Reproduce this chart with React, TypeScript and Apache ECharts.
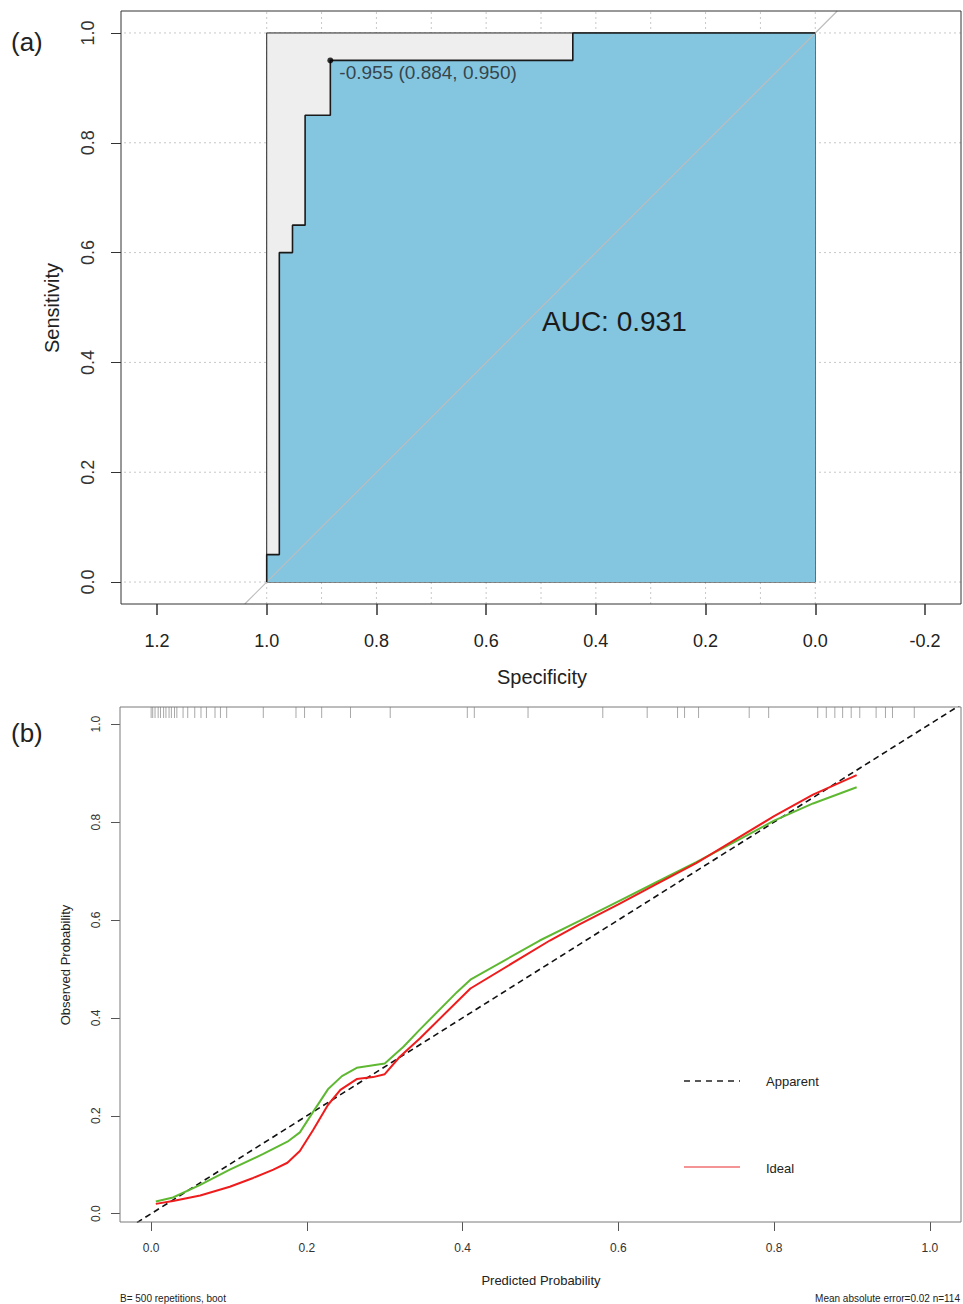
import React, { useEffect, useRef } from "react";
import * as echarts from "echarts";

// ---------- Panel (a): ROC ----------
const rocSpecificity = [1, 1, 0.977, 0.977, 0.953, 0.953, 0.93, 0.93, 0.884, 0.884, 0.442, 0.442, 0];
const rocSensitivity = [0, 0.05, 0.05, 0.6, 0.6, 0.65, 0.65, 0.85, 0.85, 0.95, 0.95, 1, 1];
const maxAucSpecificity = [1, 1, 0, 0];
const maxAucSensitivity = [0, 1, 1, 0];
const bestThreshold = -0.955;
const bestSpecificity = 0.884;
const bestSensitivity = 0.95;
const aucValue = 0.931;
const rocXTicks = [1.2, 1.0, 0.8, 0.6, 0.4, 0.2, 0.0, -0.2];
const rocYTicks = [0, 0.2, 0.4, 0.6, 0.8, 1.0];
const rocGridX = [0, 0.1, 0.2, 0.3, 0.4, 0.5, 0.6, 0.7, 0.8, 0.9, 1.0];
const rocGridY = [0, 0.2, 0.4, 0.6, 0.8, 1.0];
const rocDiagonalEnds = [-0.04, 1.04];

// ---------- Panel (b): calibration ----------
const redPredicted = [0.006, 0.028, 0.063, 0.101, 0.131, 0.157, 0.175, 0.191, 0.208, 0.227, 0.243, 0.264, 0.285, 0.3, 0.319, 0.345, 0.41, 0.512, 0.55, 0.6, 0.65, 0.7, 0.75, 0.8, 0.85, 0.906];
const redObserved = [0.02, 0.026, 0.037, 0.055, 0.073, 0.09, 0.104, 0.128, 0.171, 0.222, 0.253, 0.275, 0.279, 0.285, 0.32, 0.358, 0.46, 0.558, 0.591, 0.632, 0.674, 0.716, 0.764, 0.812, 0.856, 0.896];
const greenPredicted = [0.006, 0.028, 0.063, 0.101, 0.144, 0.175, 0.191, 0.208, 0.227, 0.245, 0.264, 0.3, 0.324, 0.345, 0.393, 0.41, 0.499, 0.55, 0.6, 0.65, 0.7, 0.75, 0.8, 0.85, 0.906];
const greenObserved = [0.025, 0.033, 0.059, 0.09, 0.122, 0.147, 0.166, 0.208, 0.254, 0.281, 0.298, 0.307, 0.341, 0.376, 0.453, 0.478, 0.558, 0.598, 0.638, 0.678, 0.718, 0.76, 0.803, 0.838, 0.871];
const idealEnds = [-0.04, 1.04];
const rugPredicted = [0.0, 0.002, 0.005, 0.009, 0.012, 0.016, 0.019, 0.023, 0.026, 0.03, 0.033, 0.041, 0.047, 0.056, 0.064, 0.071, 0.082, 0.089, 0.097, 0.144, 0.186, 0.197, 0.219, 0.256, 0.307, 0.406, 0.415, 0.484, 0.58, 0.637, 0.676, 0.685, 0.703, 0.768, 0.793, 0.856, 0.867, 0.878, 0.888, 0.899, 0.91, 0.931, 0.943, 0.952, 0.98];
const calTicks = [0, 0.2, 0.4, 0.6, 0.8, 1.0];
const calXRange = [-0.04, 1.04];
const calYRange = [-0.017, 1.035];

const FONT = '"Liberation Sans", Arial, Helvetica, sans-serif';
const ROC_X_MIN = -0.2656;
const ROC_X_MAX = 1.2656;
const ROC_Y_MIN = -0.04;
const ROC_Y_MAX = 1.04;

function polygonSeries(xs: number[], ys: number[], fill: string, stroke: string, z: number) {
  return {
    type: "custom",
    xAxisIndex: 0,
    yAxisIndex: 0,
    z,
    silent: true,
    data: xs.map((x, i) => [x, ys[i]]),
    renderItem: (params: any, api: any) => {
      if (params.dataIndex !== 0) return null;
      const pts = xs.map((x, i) => api.coord([x, ys[i]]));
      return {
        type: "polygon",
        shape: { points: pts },
        style: { fill, stroke, lineWidth: 1 },
      };
    },
  };
}

function buildOption() {
  const fmt = (v: number) => Number(v).toFixed(1);
  return {
    animation: false,
    backgroundColor: "#ffffff",
    grid: [
      { left: 121, top: 11, width: 840, height: 593, show: true, borderColor: "#333", borderWidth: 1, backgroundColor: "transparent", z: 10 },
      { left: 120, top: 707, width: 841, height: 515, show: true, borderColor: "#7a7a7a", borderWidth: 1, backgroundColor: "transparent", z: 10 },
    ],
    xAxis: [
      {
        gridIndex: 0,
        type: "value",
        inverse: true,
        min: ROC_X_MIN,
        max: ROC_X_MAX,
        axisLine: { show: false, onZero: false },
        splitLine: { show: false },
        axisTick: { show: true, length: 11, customValues: rocXTicks, lineStyle: { color: "#333", width: 1.5 } },
        axisLabel: { customValues: rocXTicks, margin: 28, fontSize: 18, color: "#222", fontFamily: FONT, formatter: fmt },
      },
      {
        gridIndex: 1,
        type: "value",
        min: calXRange[0],
        max: calXRange[1],
        axisLine: { show: false, onZero: false },
        splitLine: { show: false },
        axisTick: { show: true, length: 9, customValues: calTicks, lineStyle: { color: "#555" } },
        axisLabel: { customValues: calTicks, margin: 20, fontSize: 12, color: "#333", fontFamily: FONT, formatter: fmt },
      },
    ],
    yAxis: [
      {
        gridIndex: 0,
        type: "value",
        min: ROC_Y_MIN,
        max: ROC_Y_MAX,
        axisLine: { show: false, onZero: false },
        splitLine: { show: false },
        axisTick: { show: true, length: 10, customValues: rocYTicks, lineStyle: { color: "#333" } },
        axisLabel: { customValues: rocYTicks, rotate: 90, margin: 24, fontSize: 18, color: "#333", fontFamily: FONT, formatter: fmt },
      },
      {
        gridIndex: 1,
        type: "value",
        min: calYRange[0],
        max: calYRange[1],
        axisLine: { show: false, onZero: false },
        splitLine: { show: false },
        axisTick: { show: true, length: 9, customValues: calTicks, lineStyle: { color: "#555" } },
        axisLabel: { customValues: calTicks, rotate: 90, margin: 18, fontSize: 12, color: "#333", fontFamily: FONT, formatter: fmt },
      },
    ],
    series: [
      {
        type: "custom",
        xAxisIndex: 0,
        yAxisIndex: 0,
        z: 1,
        silent: true,
        data: rocGridX.map((v) => [v, 0]),
        renderItem: (params: any, api: any) => {
          const a = api.coord([api.value(0), ROC_Y_MIN]);
          const b = api.coord([api.value(0), ROC_Y_MAX]);
          return { type: "line", shape: { x1: a[0], y1: a[1], x2: b[0], y2: b[1] }, style: { stroke: "#c8c8c8", lineWidth: 1, lineDash: [2, 3] } };
        },
      },
      {
        type: "custom",
        xAxisIndex: 0,
        yAxisIndex: 0,
        z: 1,
        silent: true,
        data: rocGridY.map((v) => [0, v]),
        renderItem: (params: any, api: any) => {
          const a = api.coord([ROC_X_MIN, api.value(1)]);
          const b = api.coord([ROC_X_MAX, api.value(1)]);
          return { type: "line", shape: { x1: a[0], y1: a[1], x2: b[0], y2: b[1] }, style: { stroke: "#c8c8c8", lineWidth: 1, lineDash: [2, 3] } };
        },
      },
      polygonSeries(maxAucSpecificity, maxAucSensitivity, "#eeeeee", "#222", 2),
      polygonSeries(
        [...rocSpecificity, 0],
        [...rocSensitivity, 0].map((v, i, arr) => (i === arr.length - 1 ? 0 : v)),
        "#84c5e0",
        "none",
        3
      ),
      {
        type: "line",
        xAxisIndex: 0,
        yAxisIndex: 0,
        z: 4,
        silent: true,
        symbol: "none",
        data: [[1 - rocDiagonalEnds[0], rocDiagonalEnds[0]], [1 - rocDiagonalEnds[1], rocDiagonalEnds[1]]],
        lineStyle: { color: "#bdbdbd", width: 1.2 },
      },
      {
        type: "line",
        xAxisIndex: 0,
        yAxisIndex: 0,
        z: 5,
        silent: true,
        symbol: "none",
        data: rocSpecificity.map((x, i) => [x, rocSensitivity[i]]),
        lineStyle: { color: "#1a1a1a", width: 1.6 },
      },
      {
        type: "scatter",
        xAxisIndex: 0,
        yAxisIndex: 0,
        z: 6,
        symbolSize: 6,
        itemStyle: { color: "#000" },
        data: [[bestSpecificity, bestSensitivity]],
        label: {
          show: true,
          position: [12, 6],
          align: "left",
          verticalAlign: "top",
          fontSize: 19,
          fontFamily: FONT,
          color: "#222",
          formatter: () => `${bestThreshold.toFixed(3)} (${bestSpecificity.toFixed(3)}, ${bestSensitivity.toFixed(3)})`,
        },
      },
      {
        type: "line",
        xAxisIndex: 1,
        yAxisIndex: 1,
        z: 3,
        silent: true,
        symbol: "none",
        data: idealEnds.map((v) => [v, v]),
        lineStyle: { color: "#111", width: 1.6, type: [6, 4] },
      },
      {
        type: "line",
        xAxisIndex: 1,
        yAxisIndex: 1,
        z: 4,
        silent: true,
        symbol: "none",
        data: greenPredicted.map((x, i) => [x, greenObserved[i]]),
        lineStyle: { color: "#5fb832", width: 2 },
      },
      {
        type: "line",
        xAxisIndex: 1,
        yAxisIndex: 1,
        z: 5,
        silent: true,
        symbol: "none",
        data: redPredicted.map((x, i) => [x, redObserved[i]]),
        lineStyle: { color: "#ee1c1c", width: 2 },
      },
      {
        type: "custom",
        xAxisIndex: 1,
        yAxisIndex: 1,
        z: 2,
        silent: true,
        data: rugPredicted.map((v) => [v, calYRange[1]]),
        renderItem: (params: any, api: any) => {
          const a = api.coord([api.value(0), calYRange[1]]);
          return { type: "line", shape: { x1: a[0], y1: a[1], x2: a[0], y2: a[1] + 11 }, style: { stroke: "#a8a8a8", lineWidth: 1 } };
        },
      },
    ],
    graphic: [
      { type: "text", z: 100, x: 11, y: 42, style: { text: "(a)", fontSize: 26, fontFamily: FONT, fill: "#222", align: "left", verticalAlign: "middle" } },
      { type: "text", z: 100, x: 11, y: 733, style: { text: "(b)", fontSize: 26, fontFamily: FONT, fill: "#222", align: "left", verticalAlign: "middle" } },
      { type: "text", z: 100, x: 542, y: 321, style: { text: `AUC: ${aucValue.toFixed(3)}`, fontSize: 28, fontFamily: FONT, fill: "#1a1a1a", align: "left", verticalAlign: "middle" } },
      { type: "text", z: 100, x: 542, y: 677, style: { text: "Specificity", fontSize: 20, fontFamily: FONT, fill: "#222", align: "center", verticalAlign: "middle" } },
      { type: "text", z: 100, x: 52, y: 308, rotation: Math.PI / 2, style: { text: "Sensitivity", fontSize: 20, fontFamily: FONT, fill: "#222", align: "center", verticalAlign: "middle" } },
      { type: "text", z: 100, x: 541, y: 1280, style: { text: "Predicted Probability", fontSize: 13, fontFamily: FONT, fill: "#222", align: "center", verticalAlign: "middle" } },
      { type: "text", z: 100, x: 65, y: 965, rotation: Math.PI / 2, style: { text: "Observed Probability", fontSize: 13, fontFamily: FONT, fill: "#222", align: "center", verticalAlign: "middle" } },
      { type: "line", z: 100, shape: { x1: 684, y1: 1081, x2: 740, y2: 1081 }, style: { stroke: "#222", lineWidth: 1.6, lineDash: [6, 5] } },
      { type: "text", z: 100, x: 766, y: 1081, style: { text: "Apparent", fontSize: 13, fontFamily: FONT, fill: "#222", align: "left", verticalAlign: "middle" } },
      { type: "line", z: 100, shape: { x1: 684, y1: 1167, x2: 740, y2: 1167 }, style: { stroke: "#f07070", lineWidth: 1.5 } },
      { type: "text", z: 100, x: 766, y: 1168, style: { text: "Ideal", fontSize: 13, fontFamily: FONT, fill: "#222", align: "left", verticalAlign: "middle" } },
      { type: "text", z: 100, x: 120, y: 1298, style: { text: "B= 500 repetitions, boot", fontSize: 10, fontFamily: FONT, fill: "#222", align: "left", verticalAlign: "middle" } },
      { type: "text", z: 100, x: 960, y: 1298, style: { text: "Mean absolute error=0.02 n=114", fontSize: 10, fontFamily: FONT, fill: "#222", align: "right", verticalAlign: "middle" } },
    ],
  };
}

export default function App() {
  const ref = useRef<HTMLDivElement>(null);
  useEffect(() => {
    document.body.style.margin = "0";
    const chart = echarts.init(ref.current as HTMLDivElement, null, { renderer: "svg" });
    chart.setOption(buildOption() as any);
    return () => chart.dispose();
  }, []);
  return <div ref={ref} style={{ position: "absolute", left: 0, top: 0, width: 963, height: 1304, background: "#fff" }} />;
}
